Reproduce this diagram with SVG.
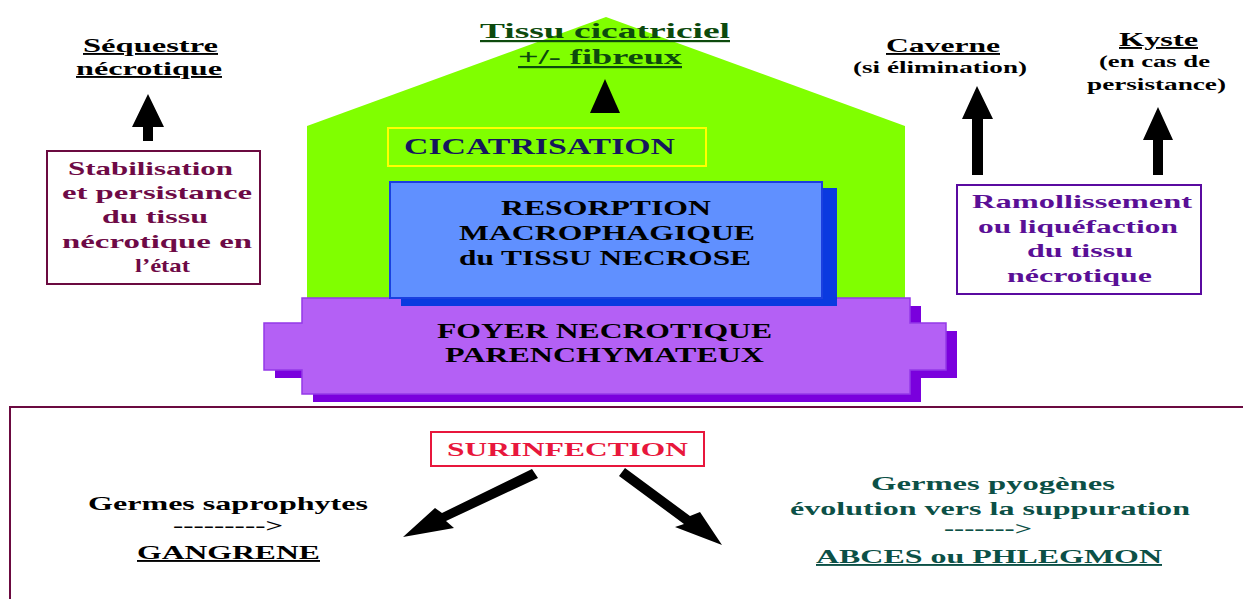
<svg xmlns="http://www.w3.org/2000/svg" width="1243" height="599" viewBox="0 0 1243 599">
<style>
text{font-family:"Liberation Serif","Times New Roman",serif;font-weight:bold;text-anchor:middle}
.u{text-decoration:underline}
.blk{fill:#000}
.maroon{fill:#6e0a46}
.violet{fill:#5a0f96}
.green{fill:#0d4a0d}
.teal{fill:#0c5046}
.arrow{fill:#000}
</style>
<rect width="1243" height="599" fill="#fff"/>

<g id="roof">
<polygon points="307,126 606,17 905,126 905,300 307,300" fill="#80ff00"/>
</g>

<g id="foyer">
<path d="M313,306 H921 V331 H957 V378 H921 V402 H313 V378 H275 V331 H313 Z" fill="#7a00dd"/>
<path d="M302,298 H910 V323 H946 V370 H910 V394 H302 V370 H264 V323 H302 Z" fill="#b460f5" stroke="#9438e8" stroke-width="1.5"/>
<text x="604.5" y="338" font-size="21" class="blk" textLength="335" lengthAdjust="spacingAndGlyphs">FOYER NECROTIQUE</text>
<text x="604.5" y="362" font-size="21" class="blk" textLength="319" lengthAdjust="spacingAndGlyphs">PARENCHYMATEUX</text>
</g>

<g id="resorption">
<rect x="401" y="188" width="436" height="118" fill="#0a3ae0"/>
<rect x="390" y="182" width="432" height="116" fill="#6090ff" stroke="#1a40e0" stroke-width="2"/>
<text x="606" y="215" font-size="20" class="blk" textLength="210" lengthAdjust="spacingAndGlyphs">RESORPTION</text>
<text x="607" y="240" font-size="20" class="blk" textLength="296" lengthAdjust="spacingAndGlyphs">MACROPHAGIQUE</text>
<text x="605" y="265" font-size="20" class="blk" textLength="292" lengthAdjust="spacingAndGlyphs">du TISSU NECROSE</text>
</g>

<g id="cicatrisation">
<rect x="388" y="128" width="318" height="38" fill="none" stroke="#ffff00" stroke-width="2"/>
<text x="539.5" y="154" font-size="23" fill="#16165c" textLength="271" lengthAdjust="spacingAndGlyphs">CICATRISATION</text>
</g>

<g id="tissu-cicatriciel">
<text x="605" y="38" font-size="22" class="green u" textLength="250" lengthAdjust="spacingAndGlyphs">Tissu cicatriciel</text>
<text x="600" y="64" font-size="22" class="green u" textLength="164" lengthAdjust="spacingAndGlyphs">+/- fibreux</text>
</g>

<g id="sequestre">
<text x="150.5" y="52" font-size="19" class="blk u" textLength="135" lengthAdjust="spacingAndGlyphs">Séquestre</text>
<text x="149" y="75" font-size="19" class="blk u" textLength="146" lengthAdjust="spacingAndGlyphs">nécrotique</text>
</g>

<g id="stabilisation">
<rect x="47" y="151" width="213" height="133" fill="#fff" stroke="#6b0a40" stroke-width="2"/>
<text x="150.5" y="175" font-size="19" class="maroon" textLength="165" lengthAdjust="spacingAndGlyphs">Stabilisation</text>
<text x="157" y="199" font-size="19" class="maroon" textLength="190" lengthAdjust="spacingAndGlyphs">et persistance</text>
<text x="155" y="223" font-size="19" class="maroon" textLength="106" lengthAdjust="spacingAndGlyphs">du tissu</text>
<text x="157" y="248" font-size="19" class="maroon" textLength="190" lengthAdjust="spacingAndGlyphs">nécrotique en</text>
<text x="162.5" y="272" font-size="19" class="maroon" textLength="55" lengthAdjust="spacingAndGlyphs">l’état</text>
</g>

<g id="caverne">
<text x="943" y="52" font-size="19" class="blk u" textLength="114" lengthAdjust="spacingAndGlyphs">Caverne</text>
<text x="940" y="73" font-size="16" class="blk" textLength="174" lengthAdjust="spacingAndGlyphs">(si élimination)</text>
</g>

<g id="kyste">
<text x="1158.5" y="46" font-size="19" class="blk u" textLength="79" lengthAdjust="spacingAndGlyphs">Kyste</text>
<text x="1154.5" y="67" font-size="16" class="blk" textLength="111" lengthAdjust="spacingAndGlyphs">(en cas de</text>
<text x="1156.5" y="90" font-size="16" class="blk" textLength="139" lengthAdjust="spacingAndGlyphs">persistance)</text>
</g>

<g id="ramollissement">
<rect x="957" y="185" width="244" height="109" fill="#fff" stroke="#5a0aa0" stroke-width="2"/>
<text x="1082" y="208" font-size="19" class="violet" textLength="220" lengthAdjust="spacingAndGlyphs">Ramollissement</text>
<text x="1078" y="233" font-size="19" class="violet" textLength="200" lengthAdjust="spacingAndGlyphs">ou liquéfaction</text>
<text x="1080" y="257" font-size="19" class="violet" textLength="106" lengthAdjust="spacingAndGlyphs">du tissu</text>
<text x="1079.5" y="282" font-size="19" class="violet" textLength="145" lengthAdjust="spacingAndGlyphs">nécrotique</text>
</g>

<g id="surinfection-panel">
<rect x="10" y="407" width="1250" height="210" fill="none" stroke="#6b0a40" stroke-width="2"/>
</g>

<g id="surinfection">
<rect x="431" y="432" width="273" height="34" fill="#fff" stroke="#e8173c" stroke-width="2"/>
<text x="567.5" y="456" font-size="19" fill="#e8173c" textLength="241" lengthAdjust="spacingAndGlyphs">SURINFECTION</text>
</g>

<g id="gangrene">
<text x="228" y="510" font-size="19" class="blk" textLength="280" lengthAdjust="spacingAndGlyphs">Germes saprophytes</text>
<text x="228" y="532" font-size="19" class="blk" textLength="110" lengthAdjust="spacingAndGlyphs">---------&gt;</text>
<text x="228.5" y="559" font-size="19" class="blk u" textLength="183" lengthAdjust="spacingAndGlyphs">GANGRENE</text>
</g>

<g id="abces">
<text x="993" y="490" font-size="19" class="teal" textLength="244" lengthAdjust="spacingAndGlyphs">Germes pyogènes</text>
<text x="990" y="515" font-size="19" class="teal" textLength="400" lengthAdjust="spacingAndGlyphs">évolution vers la suppuration</text>
<text x="988" y="535" font-size="19" class="teal" textLength="88" lengthAdjust="spacingAndGlyphs">-------&gt;</text>
<text x="989" y="563" font-size="19" class="teal u" textLength="346" lengthAdjust="spacingAndGlyphs">ABCES ou PHLEGMON</text>
</g>

<g id="connectors">
<polygon class="arrow" points="148,94 164,127 153,127 153,141 143,141 143,127 132,127"/>
<polygon class="arrow" points="605,79 620,113 590,113"/>
<polygon class="arrow" points="977,86 993,119 983,119 983,175 972,175 972,119 962,119"/>
<polygon class="arrow" points="1158,107 1173,140 1163,140 1163,175 1153,175 1153,140 1143,140"/>
<polygon class="arrow" points="532,469 538,478 446,521 454,528 403,537 435,508 442,513"/>
<polygon class="arrow" points="625,468 690,516 700,512 722,545 675,527 684,524 619,476"/>
</g>
</svg>
